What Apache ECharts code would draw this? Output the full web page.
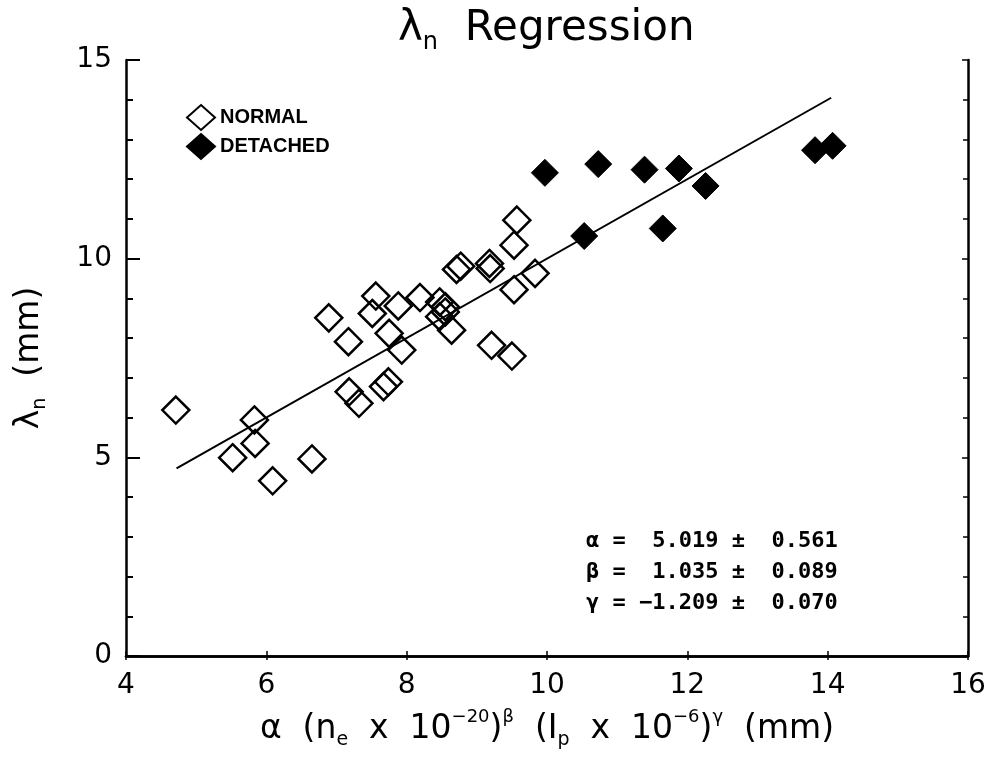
<!DOCTYPE html>
<html>
<head>
<meta charset="utf-8">
<title>λn Regression</title>
<script src="https://cdn.jsdelivr.net/npm/echarts@6/dist/echarts.min.js"></script>
<style>
  html, body { margin: 0; padding: 0; background: #fff; }
  #main { width: 994px; height: 760px; }
</style>
</head>
<body>
<div id="main"></div>
<script>
// data
const normalX = [4.71, 5.83, 5.84, 5.52, 6.09, 6.65, 6.89, 7.17, 7.18, 7.32, 7.56, 7.51, 7.75, 7.93, 7.67, 7.74, 7.88,
  8.19, 8.47, 8.55, 8.47, 8.64, 8.55, 9.21, 9.50, 9.53, 9.83, 8.71, 8.77, 9.18, 9.19, 9.57, 9.53];
const normalY = [6.19, 5.94, 5.35, 4.99, 4.41, 4.96, 8.51, 7.91, 6.65, 6.36, 9.06, 8.62, 8.12, 7.70, 6.78, 6.90, 8.81,
  9.02, 8.91, 8.79, 8.54, 8.20, 8.66, 7.82, 7.55, 9.22, 9.63, 9.73, 9.81, 9.88, 9.75, 10.97, 10.34];
const detachedX = [9.97, 10.73, 11.39, 11.88, 12.26, 10.53, 11.65, 13.82, 14.07];
const detachedY = [12.16, 12.38, 12.24, 12.27, 11.83, 10.57, 10.76, 12.73, 12.84];
// fitted line (lambda = fit, i.e. y = x)
const fitX = [4.72, 14.05];
const fitY = [4.72, 14.05];
const seriesNames = ['NORMAL', 'DETACHED'];
const fitParams = [
  ['α', ' 5.019', '0.561'],
  ['β', ' 1.035', '0.089'],
  ['γ', '−1.209', '0.070']
];

const zip = (xs, ys) => xs.map((x, i) => [x, ys[i]]);

const FONT = 'DejaVu Sans';
const INK = '#000';

const mainTok = { fontFamily: FONT, fontSize: 33, fontWeight: 'normal', lineHeight: 42, verticalAlign: 'middle', color: INK };
const subTok = { fontFamily: FONT, fontSize: 19, fontWeight: 'normal', lineHeight: 18, verticalAlign: 'bottom', color: INK };
const supTok = { fontFamily: FONT, fontSize: 18, fontWeight: 'normal', lineHeight: 22, verticalAlign: 'top', color: INK };

const myChart = echarts.init(document.getElementById('main'), null, { renderer: 'canvas' });

const option = {
  animation: false,
  backgroundColor: '#fff',
  title: {
    text: '{a|λ}{s|n}{a|  Regression}',
    left: 393,
    top: -2,
    textStyle: {
      fontWeight: 'normal',
      rich: {
        a: { fontFamily: FONT, fontSize: 42, fontWeight: 'normal', lineHeight: 52, verticalAlign: 'middle', color: INK },
        s: { fontFamily: FONT, fontSize: 24, fontWeight: 'normal', lineHeight: 24, verticalAlign: 'bottom', color: INK }
      }
    }
  },
  legend: {
    data: seriesNames,
    orient: 'vertical',
    left: 181,
    top: 99,
    itemWidth: 28,
    itemHeight: 25,
    itemGap: 2,
    textStyle: { fontFamily: 'Liberation Sans', fontWeight: 'bold', fontSize: 20, color: INK }
  },
  grid: {
    left: 126,
    right: 26,
    top: 60,
    bottom: 104,
    outerBoundsMode: 'none'
  },
  xAxis: [{
    type: 'value',
    position: 'bottom',
    min: 4,
    max: 16,
    interval: 2,
    name: '{a|α  (n}{s|e}{a|  x  10}{p|−20}{a|)}{p|β}{a|  (I}{s|p}{a|  x  10}{p|−6}{a|)}{p|γ}{a|  (mm)}',
    nameLocation: 'middle',
    nameGap: 52,
    nameTextStyle: { rich: { a: mainTok, s: subTok, p: supTok } },
    axisLine: { show: true, lineStyle: { color: INK, width: 2.5 } },
    axisTick: { show: true, inside: true, length: 5, lineStyle: { color: INK, width: 1.5 } },
    axisLabel: { fontFamily: FONT, fontSize: 28, color: INK, margin: 16 },
    splitLine: { show: false }
  }, {
    type: 'value',
    position: 'top',
    min: 4,
    max: 16,
    interval: 2,
    axisLine: { show: true, lineStyle: { color: INK, width: 2.5 } },
    axisTick: { show: true, inside: true, length: 4, lineStyle: { color: INK, width: 1.5 } },
    axisLabel: { show: false },
    splitLine: { show: false }
  }],
  yAxis: [{
    type: 'value',
    position: 'left',
    min: 0,
    max: 15,
    interval: 5,
    name: '{a|λ}{s|n}{a|  (mm)}',
    nameLocation: 'middle',
    nameGap: 76,
    nameTextStyle: { rich: { a: mainTok, s: subTok } },
    axisLine: { show: true, lineStyle: { color: INK, width: 2.5 } },
    axisTick: { show: true, inside: true, length: 14, lineStyle: { color: INK, width: 2 } },
    minorTick: { show: true, splitNumber: 5, length: 7, lineStyle: { color: INK, width: 2 } },
    axisLabel: { fontFamily: FONT, fontSize: 28, color: INK, margin: 14 },
    splitLine: { show: false },
    minorSplitLine: { show: false }
  }, {
    type: 'value',
    position: 'right',
    min: 0,
    max: 15,
    interval: 5,
    axisLine: { show: true, lineStyle: { color: INK, width: 2.5 } },
    axisTick: { show: true, inside: true, length: 6, lineStyle: { color: INK, width: 1.5 } },
    minorTick: { show: true, splitNumber: 5, length: 5, lineStyle: { color: INK, width: 1.5 } },
    axisLabel: { show: false },
    splitLine: { show: false },
    minorSplitLine: { show: false }
  }],
  series: [{
    name: 'fit',
    type: 'line',
    data: zip(fitX, fitY),
    showSymbol: false,
    symbol: 'none',
    lineStyle: { color: INK, width: 2 },
    silent: true,
    z: 2
  }, {
    name: seriesNames[0],
    type: 'scatter',
    symbol: 'diamond',
    symbolSize: 27,
    data: zip(normalX, normalY),
    itemStyle: { color: 'rgba(255,255,255,0)', borderColor: INK, borderWidth: 2.5, opacity: 1 },
    z: 3
  }, {
    name: seriesNames[1],
    type: 'scatter',
    symbol: 'diamond',
    symbolSize: 27,
    data: zip(detachedX, detachedY),
    itemStyle: { color: INK, borderColor: INK, borderWidth: 1, opacity: 1 },
    z: 4
  }],
  graphic: fitParams.map((p, i) => ({
    type: 'text',
    x: 586,
    y: 541 + i * 31,
    style: {
      text: p[0] + ' = ' + p[1] + ' ±  ' + p[2],
      fontFamily: 'DejaVu Sans Mono',
      fontWeight: 'bold',
      fontSize: 22,
      fill: INK,
      verticalAlign: 'middle'
    }
  }))
};

myChart.setOption(option);
</script>
</body>
</html>
